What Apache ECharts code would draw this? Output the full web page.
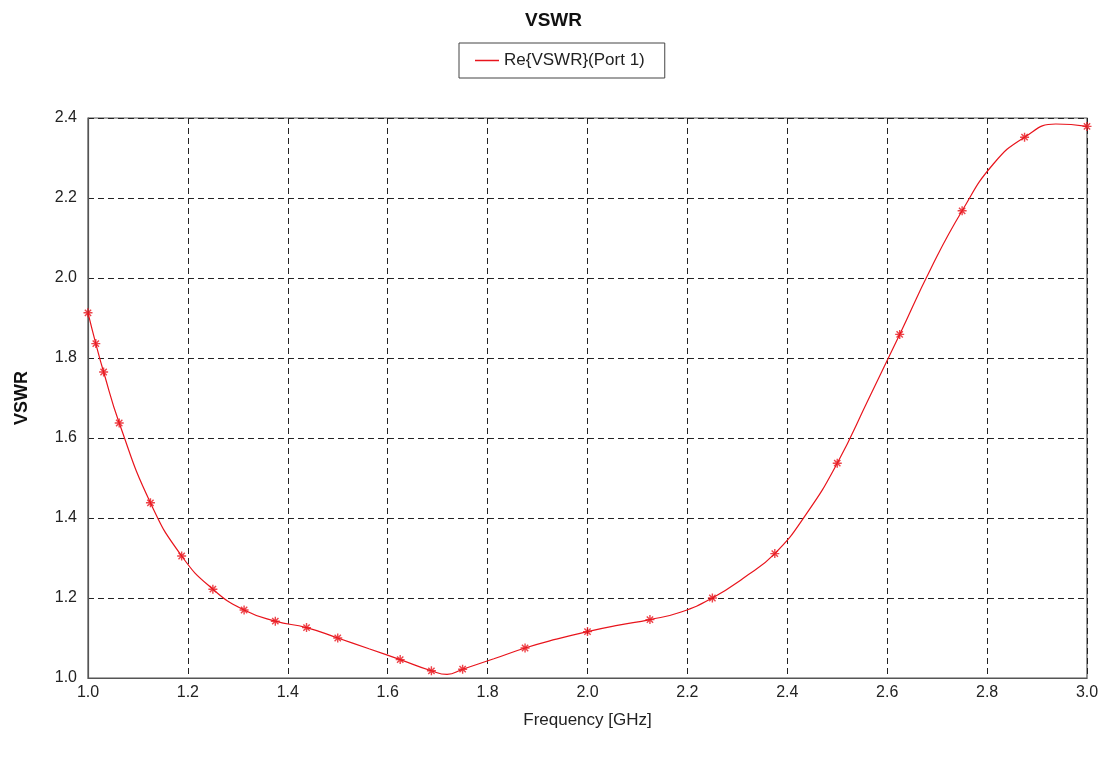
<!DOCTYPE html>
<html>
<head>
<meta charset="utf-8">
<title>VSWR</title>
<script src="https://cdn.jsdelivr.net/npm/echarts@6/dist/echarts.min.js"></script>
<style>
  html, body { margin: 0; padding: 0; background: #fff; }
  #chart { width: 1107px; height: 762px; }
</style>
</head>
<body>
<div id="chart"></div>
<script>
// curve (GHz, VSWR)
var curveFreq = [1.0, 1.0156, 1.0313, 1.0625, 1.125, 1.1875, 1.25, 1.3125, 1.375, 1.4375, 1.5,
  1.5625, 1.625, 1.6875, 1.71875, 1.75, 1.8125, 1.875, 1.9375, 2.0, 2.0625, 2.125, 2.1875,
  2.25, 2.3125, 2.375, 2.4375, 2.5, 2.5625, 2.625, 2.6875, 2.75, 2.8125, 2.875, 2.9375, 3.0];
var curveVswr = [1.913, 1.836, 1.765, 1.6375, 1.438, 1.305, 1.222, 1.17, 1.142, 1.126, 1.10,
  1.073, 1.046, 1.018, 1.009, 1.022, 1.048, 1.075, 1.097, 1.116, 1.132, 1.146, 1.165,
  1.200, 1.25, 1.311, 1.409, 1.537, 1.697, 1.859, 2.024, 2.168, 2.285, 2.352, 2.385, 2.379];

// sample points drawn with asterisks
var markFreq = [1.0, 1.015625, 1.03125, 1.0625, 1.125, 1.1875, 1.25, 1.3125, 1.375, 1.4375, 1.5,
  1.625, 1.6875, 1.75, 1.875, 2.0, 2.125, 2.25, 2.375, 2.5, 2.625, 2.75, 2.875, 3.0];
var markVswr = [1.913, 1.836, 1.765, 1.6375, 1.438, 1.305, 1.222, 1.17, 1.142, 1.126, 1.10,
  1.046, 1.018, 1.022, 1.075, 1.116, 1.146, 1.200, 1.311, 1.537, 1.859, 2.168, 2.352, 2.379];

var seriesName = 'Re{VSWR}(Port 1)';

function pairs(xs, ys) {
  return xs.map(function(x, i) { return [x, ys[i]]; });
}

var red = '#e8141c';
var font = '"Liberation Sans", Arial, sans-serif';
var star = 'path://M0,5L10,5M5,0L5,10M1.5,1.5L8.5,8.5M8.5,1.5L1.5,8.5';

var chart = echarts.init(document.getElementById('chart'), null, { renderer: 'canvas' });
chart.setOption({
  animation: false,
  backgroundColor: '#fff',
  textStyle: { fontFamily: font },
  title: {
    text: 'VSWR', left: 'center', top: 6,
    textStyle: { fontSize: 19, fontWeight: 'bold', color: '#111', fontFamily: font }
  },
  legend: {
    data: [seriesName],
    top: 43, left: 459,
    padding: [9, 20, 9, 16],
    borderColor: '#444', borderWidth: 1, borderRadius: 0,
    icon: 'rect', itemWidth: 24, itemHeight: 1.5, itemGap: 8,
    textStyle: { fontSize: 17, color: '#222', fontFamily: font }
  },
  grid: {
    left: 88, right: 20, top: 118, bottom: 84,
    show: true, borderColor: '#555', borderWidth: 1.2, backgroundColor: 'transparent'
  },
  xAxis: {
    type: 'value', min: 1, max: 3, interval: 0.2,
    name: 'Frequency [GHz]', nameLocation: 'middle', nameGap: 34,
    nameTextStyle: { fontSize: 17, color: '#222', fontFamily: font },
    axisLine: { show: true, lineStyle: { color: '#555', width: 1.2 } },
    axisTick: { show: false },
    axisLabel: { fontSize: 16, color: '#222', margin: 7, formatter: function(v) { return v.toFixed(1); } },
    splitLine: { show: true, lineStyle: { color: '#222', type: [6, 4], width: 1 } }
  },
  yAxis: {
    type: 'value', min: 1, max: 2.4, interval: 0.2,
    name: 'VSWR', nameLocation: 'middle', nameGap: 57,
    nameTextStyle: { fontSize: 18, fontWeight: 'bold', color: '#111', fontFamily: font },
    axisLine: { show: true, lineStyle: { color: '#555', width: 1.2 } },
    axisTick: { show: false },
    axisLabel: { fontSize: 16, color: '#222', margin: 11, formatter: function(v) { return v.toFixed(1); } },
    splitLine: { show: true, lineStyle: { color: '#222', type: [6, 4], width: 1 } }
  },
  series: [
    {
      name: seriesName,
      type: 'line',
      data: pairs(curveFreq, curveVswr),
      smooth: 0.5,
      showSymbol: false,
      lineStyle: { color: red, width: 1.2 },
      itemStyle: { color: red },
      z: 3
    },
    {
      name: 'marks',
      type: 'scatter',
      data: pairs(markFreq, markVswr),
      symbol: star,
      symbolSize: 9,
      itemStyle: { color: 'none', borderColor: red, borderWidth: 1.4 },
      z: 4
    }
  ]
});
window.addEventListener('resize', function() { chart.resize(); });
</script>
</body>
</html>
